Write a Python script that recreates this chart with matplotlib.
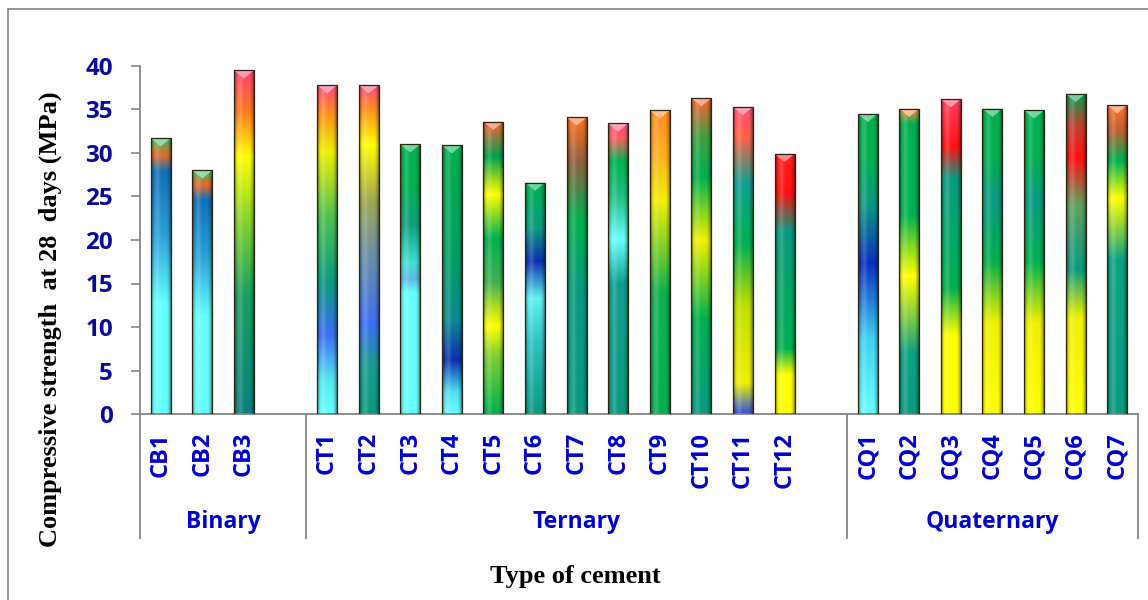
import numpy as np
import matplotlib
matplotlib.use("Agg")
import matplotlib.pyplot as plt
from matplotlib.colors import LinearSegmentedColormap, to_rgb
from matplotlib.patches import Rectangle, Polygon
import matplotlib.transforms as mtransforms
from matplotlib import font_manager

# data
groups = ["Binary", "Ternary", "Quaternary"]
binary_labels = ["CB1", "CB2", "CB3"]
binary_vals = [31.7, 28.0, 39.5]
ternary_labels = ["CT1", "CT2", "CT3", "CT4", "CT5", "CT6",
                  "CT7", "CT8", "CT9", "CT10", "CT11", "CT12"]
ternary_vals = [37.8, 37.8, 31.0, 30.9, 33.6, 26.6,
                34.1, 33.4, 34.9, 36.3, 35.3, 29.9]
quaternary_labels = ["CQ1", "CQ2", "CQ3", "CQ4", "CQ5", "CQ6", "CQ7"]
quaternary_vals = [34.5, 35.1, 36.2, 35.1, 34.9, 36.8, 35.5]

# gradient stops per bar (bottom -> top), mimics the excel fill
CY, TE, GR, YE = '#66ffff', '#0a9a80', '#00b050', '#ffff00'
bar_stops = [
    [(0, CY), (0.4, CY), (0.65, '#2aa0d8'), (0.88, '#1070b8'), (0.94, '#e86a2a'), (1, '#30c060')],
    [(0, CY), (0.4, CY), (0.65, '#2aa0d8'), (0.88, '#1070b8'), (0.94, '#e86a2a'), (1, '#30c060')],
    [(0, '#0a8080'), (0.35, '#1aa060'), (0.55, '#7fd030'), (0.75, YE), (0.88, '#ff7a20'), (1, '#ff4070')],
    [(0, CY), (0.1, '#55e8f0'), (0.24, '#3a6ef0'), (0.4, TE), (0.6, '#50c050'), (0.8, '#f0f000'), (0.92, '#ff8a20'), (1, '#ff4f7f')],
    [(0, TE), (0.15, '#1a9a90'), (0.27, '#3a70f0'), (0.5, '#7090a0'), (0.65, '#a0a850'), (0.82, YE), (0.93, '#ff8a20'), (1, '#ff4f7f')],
    [(0, CY), (0.45, CY), (0.5, '#60b8e8'), (0.56, '#40e0d0'), (0.7, '#10a080'), (0.85, GR), (1, GR)],
    [(0, CY), (0.08, '#50e0f0'), (0.2, '#0a30b0'), (0.35, '#0a8a90'), (0.6, '#00a060'), (1, GR)],
    [(0, GR), (0.2, '#80d030'), (0.3, YE), (0.45, '#40b050'), (0.6, GR), (0.75, YE), (0.88, '#00a050'), (1, '#ff6030')],
    [(0, TE), (0.3, '#30c0c0'), (0.5, '#60f0f0'), (0.66, '#0a30b0'), (0.8, TE), (1, GR)],
    [(0, TE), (0.4, TE), (0.65, GR), (0.85, '#906040'), (1, '#ff7020')],
    [(0, TE), (0.45, '#10a090'), (0.6, CY), (0.75, '#20c080'), (0.87, GR), (0.95, '#ff6060'), (1, '#ff5080')],
    [(0, GR), (0.4, '#10b050'), (0.7, '#f0f000'), (0.85, '#ffb020'), (1, '#ff8a20')],
    [(0, TE), (0.3, GR), (0.55, '#f0f000'), (0.75, GR), (0.88, '#40a040'), (1, '#ff6030')],
    [(0, '#3050e0'), (0.1, '#f0f000'), (0.35, '#c0e000'), (0.55, GR), (0.75, '#10a090'), (0.9, '#ff6040'), (1, '#ff5080')],
    [(0, YE), (0.15, YE), (0.25, GR), (0.7, TE), (0.85, '#ff1010'), (1, '#ff2020')],
    [(0, CY), (0.25, '#40d0f0'), (0.5, '#0a30c0'), (0.7, TE), (0.85, GR), (1, GR)],
    [(0, TE), (0.2, '#10a080'), (0.45, YE), (0.65, GR), (0.95, GR), (1, '#ff8a40')],
    [(0, YE), (0.25, YE), (0.4, GR), (0.75, TE), (0.85, '#ff1010'), (1, '#ff4060')],
    [(0, YE), (0.3, '#f0f000'), (0.5, GR), (0.7, TE), (0.85, GR), (1, GR)],
    [(0, YE), (0.3, '#f0f000'), (0.5, GR), (0.7, TE), (0.85, GR), (1, GR)],
    [(0, YE), (0.3, '#f0f000'), (0.45, TE), (0.65, '#60a060'), (0.8, '#ff1010'), (0.9, '#c04030'), (1, '#00a050')],
    [(0, TE), (0.5, '#10a080'), (0.7, YE), (0.82, GR), (0.92, '#c06030'), (1, '#ff7030')],
]

blue_txt = '#0000cc'
navy_txt = '#0a0a9a'
grey = '#868686'

# pick a sans family that really has a bold face
sans = 'DejaVu Sans'
for fam in ['Open Sans', 'Noto Sans', 'Lato', 'Roboto']:
    try:
        fp = font_manager.findfont(font_manager.FontProperties(family=fam, weight='bold'),
                                   fallback_to_default=False)
        if 'bold' in fp.lower():
            sans = fam
            break
    except Exception:
        pass
plt.rcParams['font.family'] = [sans, 'DejaVu Sans']

fig = plt.figure(figsize=(11.48, 6.0), dpi=100)
ax = fig.add_axes([140 / 1148, 1 - 414 / 600, 998 / 1148, 348 / 600])

# slot positions: one empty slot after each group except the last
group_labels = [binary_labels, ternary_labels, quaternary_labels]
group_vals = [binary_vals, ternary_vals, quaternary_vals]
positions, labels, values, spans = [], [], [], []
slot = 0
for gi, (labs, vals) in enumerate(zip(group_labels, group_vals)):
    start = slot
    for lab, v in zip(labs, vals):
        positions.append(slot)
        labels.append(lab)
        values.append(v)
        slot += 1
    if gi < len(groups) - 1:
        slot += 1
    spans.append((start - 0.5, slot - 0.5))
n_slots = slot

w = 0.48
grad = np.linspace(0, 1, 256).reshape(-1, 1)
# horizontal shading to give the rounded/bevel look
xs = np.linspace(0, 1, 64)
shade = np.zeros((1, 64, 4))
dark = np.clip(1 - np.minimum(xs, 1 - xs) / 0.22, 0, 1) ** 1.6
shade[0, :, 3] = 0.45 * dark
hl = np.exp(-((xs - 0.32) / 0.12) ** 2)
shade[0, :, :3] = (hl / (hl + dark + 1e-6))[:, None]
shade[0, :, 3] += 0.18 * hl

for i, (p, v) in enumerate(zip(positions, values)):
    x0 = p - w / 2
    cmap = LinearSegmentedColormap.from_list('b%d' % i, bar_stops[i])
    rect = Rectangle((x0, 0), w, v, facecolor='none', edgecolor='#2b2410',
                     linewidth=0.9, zorder=5)
    ax.add_patch(rect)
    im = ax.imshow(grad, cmap=cmap, extent=[x0, x0 + w, 0, v], origin='lower',
                   aspect='auto', interpolation='bilinear', zorder=2)
    im.set_clip_path(rect)
    sh = ax.imshow(shade, extent=[x0, x0 + w, 0, v], aspect='auto',
                   interpolation='bilinear', zorder=3)
    sh.set_clip_path(rect)
    top = np.array(to_rgb(bar_stops[i][-1][1]))
    tip = Polygon([(x0, v), (x0 + w, v), (p, v - 0.95)], closed=True,
                  facecolor=top * 0.45 + 0.55, edgecolor='none', alpha=0.85, zorder=4)
    ax.add_patch(tip)

ax.set_xlim(-0.5, n_slots - 0.5)
ax.set_ylim(0, 40)
ax.set_yticks(np.arange(0, 41, 5))
ax.set_xticks(positions)
ax.set_xticklabels(labels, rotation=90, fontsize=17, fontweight='bold', color=blue_txt)
ax.tick_params(axis='x', length=0, pad=13)
ax.tick_params(axis='y', direction='out', length=6.5, width=1.2, color=grey,
               pad=13, labelsize=17.5, labelcolor=navy_txt)
for lab in ax.get_yticklabels():
    lab.set_fontweight('bold')
for s in ['top', 'right']:
    ax.spines[s].set_visible(False)
for s in ['left', 'bottom']:
    ax.spines[s].set_color(grey)
    ax.spines[s].set_linewidth(1.3)

# multi-level category axis
trans = mtransforms.blended_transform_factory(ax.transData, ax.transAxes)
edges = sorted(set([a for a, b in spans] + [b for a, b in spans]))
for e in edges:
    ax.plot([e, e], [0, -0.356], transform=trans, color=grey, lw=1.3, clip_on=False)
for g, (a, b) in zip(groups, spans):
    ax.text((a + b) / 2, -0.31, g, transform=trans, ha='center', va='center',
            fontsize=16.5, fontweight='bold', color=blue_txt)

fig.text(50 / 1148, 1 - 319 / 600, "Compressive strength  at 28  days (MPa)",
         rotation=90, ha='center', va='center', fontsize=19, fontweight='bold',
         family='Liberation Serif')
fig.text(575 / 1148, 1 - 577 / 600, "Type of cement", ha='center', va='center',
         fontsize=19, fontweight='bold', family='Liberation Serif')

# outer chart frame
fig.add_artist(plt.Line2D([8 / 1148, 1], [1 - 9 / 600, 1 - 9 / 600], color=grey, lw=1.2))
fig.add_artist(plt.Line2D([8 / 1148, 8 / 1148], [0, 1 - 9 / 600], color=grey, lw=1.2))

fig.savefig("out.png", dpi=100)
